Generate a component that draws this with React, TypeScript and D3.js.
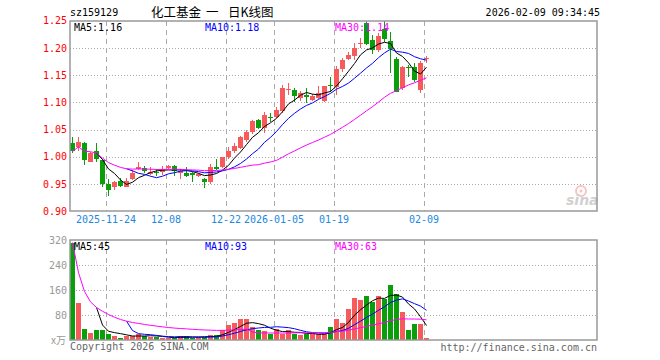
import React from "react";
import * as d3 from "d3";

const dates = [
  "2025-11-14","2025-11-17","2025-11-18","2025-11-19","2025-11-20","2025-11-21",
  "2025-11-24","2025-11-25","2025-11-26","2025-11-27","2025-11-28",
  "2025-12-01","2025-12-02","2025-12-03","2025-12-04","2025-12-05",
  "2025-12-08","2025-12-09","2025-12-10","2025-12-11","2025-12-12",
  "2025-12-15","2025-12-16","2025-12-17","2025-12-18","2025-12-19",
  "2025-12-22","2025-12-23","2025-12-24","2025-12-25","2025-12-26",
  "2025-12-29","2025-12-30","2025-12-31",
  "2026-01-05","2026-01-06","2026-01-07","2026-01-08","2026-01-09",
  "2026-01-12","2026-01-13","2026-01-14","2026-01-15","2026-01-16",
  "2026-01-19","2026-01-20","2026-01-21","2026-01-22","2026-01-23",
  "2026-01-26","2026-01-27","2026-01-28","2026-01-29","2026-01-30",
  "2026-02-02","2026-02-03","2026-02-04","2026-02-05","2026-02-06",
  "2026-02-09",
];

const openP = [
  1.025,1.019,1.025,0.991,1.010,0.994,0.950,0.944,0.956,0.945,
  0.959,0.978,0.979,0.968,0.972,0.972,0.980,0.983,0.970,0.971,
  0.970,0.965,0.959,0.953,0.981,0.981,0.999,1.010,1.016,1.031,
  1.046,1.067,1.053,1.074,1.073,1.084,1.123,1.123,1.109,1.114,
  1.105,1.108,1.103,1.132,1.128,1.162,1.180,1.185,1.208,1.247,
  1.215,1.196,1.236,1.213,1.180,1.127,1.166,1.166,1.123,1.180,
];
const highP = [
  1.037,1.037,1.028,1.009,1.025,0.997,0.959,0.956,0.961,0.962,
  0.976,0.990,0.983,0.981,0.978,0.983,0.986,0.985,0.977,0.981,
  0.973,0.971,0.962,0.987,0.997,1.000,1.018,1.025,1.038,1.049,
  1.068,1.069,1.082,1.080,1.092,1.132,1.135,1.126,1.121,1.126,
  1.116,1.130,1.131,1.147,1.167,1.182,1.193,1.209,1.219,1.249,
  1.224,1.228,1.249,1.230,1.183,1.167,1.169,1.172,1.176,1.185,
];
const lowP = [
  1.007,1.010,0.985,0.990,0.991,0.945,0.928,0.939,0.945,0.944,
  0.958,0.976,0.970,0.966,0.964,0.967,0.977,0.965,0.959,0.963,
  0.953,0.963,0.942,0.951,0.976,0.979,0.996,1.008,1.014,1.028,
  1.043,1.051,1.044,1.065,1.071,1.081,1.114,1.101,1.103,1.099,
  1.103,1.106,1.101,1.119,1.114,1.156,1.178,1.178,1.200,1.205,
  1.190,1.192,1.212,1.155,1.120,1.123,1.147,1.138,1.117,1.173,
];
const closeP = [
  1.010,1.027,0.994,1.007,0.997,0.951,0.940,0.953,0.947,0.956,
  0.971,0.982,0.975,0.973,0.970,0.978,0.984,0.974,0.975,0.965,
  0.967,0.968,0.953,0.981,0.978,0.999,1.011,1.020,1.037,1.046,
  1.066,1.053,1.077,1.072,1.086,1.127,1.125,1.112,1.117,1.111,
  1.112,1.118,1.130,1.130,1.162,1.178,1.187,1.201,1.210,1.207,
  1.197,1.222,1.217,1.199,1.120,1.165,1.164,1.141,1.172,1.182,
];
const volume = [
  312,119,35,22,32,32,19,13,6,13,
  13,19,13,10,10,6,6,6,13,13,
  6,10,10,16,16,32,48,54,67,67,
  42,32,29,19,35,19,32,19,16,19,
  19,19,19,42,67,54,99,136,128,142,
  123,142,131,176,147,91,32,51,51,6,
];

const priceTicks = [1.25, 1.2, 1.15, 1.1, 1.05, 1.0, 0.95, 0.9];
const volTicks = [320, 240, 160, 80];
const dateTicks = [
  { date: "2025-11-24", label: "2025-11-24" },
  { date: "2025-12-08", label: "12-08" },
  { date: "2025-12-22", label: "12-22" },
  { date: "2026-01-05", label: "2026-01-05" },
  { date: "2026-01-19", label: "01-19" },
  { date: "2026-02-09", label: "02-09" },
];
const priceMALabels = ["MA5:1.16", "MA10:1.18", "MA30:1.14"];
const volMALabels = ["MA5:45", "MA10:93", "MA30:63"];
const titleParts = ["化工基金", "一", "日K线图"];

function movingAvg(arr: number[], n: number, cumulative: boolean) {
  return arr.map((_, i) => {
    if (i < n - 1) return cumulative ? (d3.mean(arr.slice(0, i + 1)) as number) : null;
    return d3.mean(arr.slice(i - n + 1, i + 1)) as number;
  });
}

const RED = "#f65a5a";
const GREEN = "#0a9e0a";
const MONO = "'DejaVu Sans Mono', monospace";
const CJK = "'Noto Sans CJK SC', sans-serif";

export default function App() {
  const L = 70, R = 597;
  const pTop = 21, pBot = 211;
  const vTop = 240, vBot = 340;
  const x = d3.scaleBand<string>().domain(dates).range([70, 430]).padding(0);
  const bw = x.bandwidth() - 1;
  const cx = (d: string) => (x(d) as number) + bw / 2;
  const y = d3.scaleLinear().domain([0.9, 1.25]).range([211.3, 20.9]);
  const vy = d3.scaleLinear().domain([0, 320]).range([340, 240]);

  const maColors = ["#000000", "#0000ff", "#ff00ff"];
  const pMA = [movingAvg(closeP, 5, false), movingAvg(closeP, 10, false), movingAvg(closeP, 30, true)];
  const vMA = [movingAvg(volume, 5, false), movingAvg(volume, 10, false), movingAvg(volume, 30, true)];
  const mkLine = (sc: (v: number) => number) =>
    d3.line<number | null>()
      .defined((v) => v !== null)
      .x((_, i) => cx(dates[i]))
      .y((v) => sc(v as number));

  const labelX = [74, 205, 335];
  const titleX = [151, 206, 228];

  return (
    <svg width={660} height={360} style={{ position: "absolute", left: 0, top: 0, background: "#fff" }}>
      {/* header */}
      <text x={70} y={16} fontFamily={MONO} fontSize={10} fill="#000">sz159129</text>
      {titleParts.map((t, k) => (
        <text key={"tt" + k} x={titleX[k]} y={17} fontFamily={CJK} fontSize={12.5} fill="#000">{t}</text>
      ))}
      <text x={600} y={16} fontFamily={MONO} fontSize={10} fill="#000" textAnchor="end">2026-02-09 09:34:45</text>

      {/* price grid */}
      {priceTicks.slice(1, -1).map((t) => (
        <line key={"pg" + t} x1={L} x2={R} y1={Math.round(y(t)) + 0.5} y2={Math.round(y(t)) + 0.5} stroke="#aaa" strokeDasharray="1,2" />
      ))}
      {dateTicks.map((d) => (
        <line key={"pv" + d.date} x1={(x(d.date) as number) + 0.5} x2={(x(d.date) as number) + 0.5} y1={pTop} y2={pBot} stroke="#aaa" strokeDasharray="5,4" />
      ))}
      {/* volume grid */}
      {volTicks.slice(1).map((t) => (
        <line key={"vg" + t} x1={L} x2={R} y1={vy(t) + 0.5} y2={vy(t) + 0.5} stroke="#aaa" strokeDasharray="1,2" />
      ))}
      {dateTicks.map((d) => (
        <line key={"vv" + d.date} x1={(x(d.date) as number) + 0.5} x2={(x(d.date) as number) + 0.5} y1={vTop} y2={vBot} stroke="#aaa" strokeDasharray="5,4" />
      ))}

      {/* sina watermark */}
      <g opacity={0.45}>
        <circle cx={581} cy={191} r={5} fill="none" stroke="#f08080" strokeWidth={2} />
        <circle cx={581} cy={191} r={1.5} fill="#f08080" />
        <text x={566} y={205} fontFamily="'DejaVu Sans', sans-serif" fontStyle="italic" fontWeight="bold" fontSize={14} fill="#999">sina</text>
      </g>

      {/* candles */}
      {dates.map((d, i) => {
        const up = closeP[i] >= openP[i];
        const c = up ? RED : GREEN;
        const top = y(Math.max(openP[i], closeP[i]));
        const bot = y(Math.min(openP[i], closeP[i]));
        const xx = x(d) as number;
        return (
          <g key={"c" + d} shapeRendering="crispEdges">
            <line x1={xx + 2.5} x2={xx + 2.5} y1={y(highP[i])} y2={y(lowP[i])} stroke={c} />
            <rect x={xx} y={top} width={bw} height={Math.max(1, bot - top)} fill={c} />
          </g>
        );
      })}
      {/* price MAs */}
      {pMA.map((m, k) => (
        <path key={"pm" + k} d={mkLine(y)(m) as string} fill="none" stroke={maColors[k]} strokeWidth={1} />
      ))}

      {/* volume bars */}
      {dates.map((d, i) => {
        const up = closeP[i] >= openP[i];
        return (
          <rect key={"v" + d} shapeRendering="crispEdges" x={x(d) as number} y={vy(volume[i])} width={bw} height={vBot - vy(volume[i])} fill={up ? RED : GREEN} />
        );
      })}
      {vMA.map((m, k) => (
        <path key={"vm" + k} d={mkLine(vy)(m) as string} fill="none" stroke={maColors[k]} strokeWidth={1} />
      ))}

      {/* frames */}
      <rect x={L} y={pTop} width={R - L} height={pBot - pTop} fill="none" stroke="#999" strokeWidth={1.5} />
      <rect x={L} y={vTop} width={R - L} height={vBot - vTop} fill="none" stroke="#999" strokeWidth={1.5} />

      {/* price axis labels */}
      {priceTicks.map((t) => (
        <text key={"pl" + t} x={67} y={y(t)} dy="0.35em" textAnchor="end" fontFamily={MONO} fontSize={10} fill="#ff0000">{t.toFixed(2)}</text>
      ))}
      {/* volume axis labels */}
      {volTicks.map((t) => (
        <text key={"vl" + t} x={67} y={vy(t)} dy="0.35em" textAnchor="end" fontFamily={MONO} fontSize={10} fill="#999">{t}</text>
      ))}
      <text x={66} y={vBot} dy="0.35em" textAnchor="end" fontFamily={CJK} fontSize={10} fill="#999">x万</text>

      {/* date labels */}
      {dateTicks.map((d) => (
        <text key={"dl" + d.date} x={x(d.date) as number} y={223} textAnchor="middle" fontFamily={MONO} fontSize={10} fill="#2288dd">{d.label}</text>
      ))}

      {/* MA labels */}
      {priceMALabels.map((t, k) => (
        <text key={"pml" + k} x={labelX[k]} y={31} fontFamily={MONO} fontSize={10} fill={maColors[k]}>{t}</text>
      ))}
      {volMALabels.map((t, k) => (
        <text key={"vml" + k} x={labelX[k]} y={250} fontFamily={MONO} fontSize={10} fill={maColors[k]}>{t}</text>
      ))}

      {/* footer */}
      <text x={70} y={350} fontFamily={MONO} fontSize={10} fill="#666">Copyright 2026 SINA.COM</text>
      <text x={597} y={351} textAnchor="end" fontFamily={MONO} fontSize={10} fill="#666">http://finance.sina.com.cn</text>
    </svg>
  );
}
